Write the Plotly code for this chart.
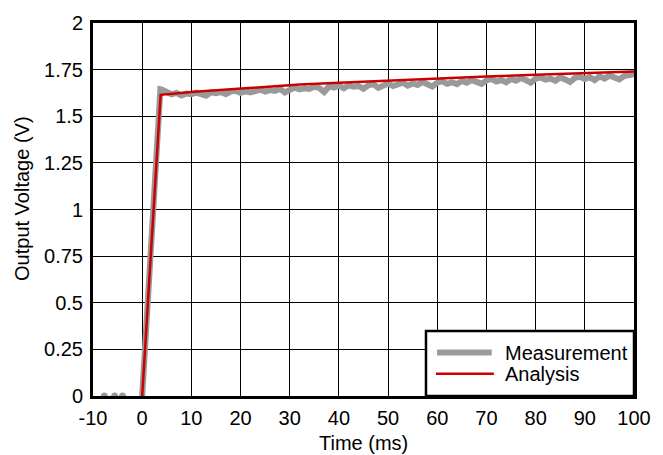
import plotly.graph_objects as go

# Measured output voltage (V) sampled every 1 ms
meas_time = [0, 1, 2, 3, 3.7] + list(range(4, 101))
meas_volt = [
    0.0, 0.44, 0.88, 1.32, 1.645,
    1.643, 1.630, 1.618, 1.625, 1.612, 1.622, 1.618, 1.626, 1.616, 1.610,
    1.628, 1.624, 1.630, 1.618, 1.632, 1.636, 1.626, 1.634, 1.628, 1.638,
    1.642, 1.632, 1.640, 1.636, 1.648, 1.628, 1.640, 1.654, 1.644, 1.650,
    1.646, 1.658, 1.652, 1.630, 1.660, 1.654, 1.664, 1.650, 1.666, 1.658,
    1.662, 1.648, 1.666, 1.672, 1.652, 1.668, 1.676, 1.662, 1.670, 1.680,
    1.664, 1.676, 1.668, 1.684, 1.672, 1.660, 1.680, 1.688, 1.674, 1.682,
    1.672, 1.690, 1.680, 1.694, 1.684, 1.674, 1.692, 1.700, 1.686, 1.694,
    1.682, 1.700, 1.690, 1.704, 1.694, 1.680, 1.702, 1.708, 1.696, 1.702,
    1.690, 1.708, 1.698, 1.684, 1.706, 1.712, 1.700, 1.710, 1.694, 1.714,
    1.702, 1.718, 1.708, 1.698, 1.716, 1.722, 1.726,
]

# Pre-trigger samples
pre_time = [-7.7, -5.6, -4.0]
pre_volt = [0.0, 0.0, 0.0]

# Analysis (model) curve
ana_time = [0, 3.75, 10, 20, 32, 40, 50, 60, 70, 80, 90, 100]
ana_volt = [0.0, 1.615, 1.630, 1.648, 1.670, 1.680, 1.692, 1.703, 1.713, 1.722, 1.731, 1.740]

x_ticks = list(range(-10, 101, 10))
y_ticks = [0, 0.25, 0.5, 0.75, 1, 1.25, 1.5, 1.75, 2]
y_labels = ["0", "0.25", "0.5", "0.75", "1", "1.25", "1.5", "1.75", "2"]

GRAY = "#9a9a9a"
RED = "#cc0000"
FONT = "Liberation Sans, Arial, sans-serif"

fig = go.Figure()
fig.add_trace(go.Scatter(x=meas_time, y=meas_volt, mode="lines",
                         line=dict(color=GRAY, width=6), showlegend=False))
fig.add_trace(go.Scatter(x=pre_time, y=pre_volt, mode="markers",
                         marker=dict(color=GRAY, size=7), showlegend=False))
fig.add_trace(go.Scatter(x=ana_time, y=ana_volt, mode="lines",
                         line=dict(color=RED, width=2.5), showlegend=False))

fig.update_layout(
    width=663, height=455,
    margin=dict(l=93, r=28, t=16, b=59),
    paper_bgcolor="white", plot_bgcolor="white",
    font=dict(family=FONT, size=20, color="black"),
    xaxis=dict(range=[-10, 100], tickvals=x_ticks, ticktext=[str(v) for v in x_ticks],
               showgrid=True, gridcolor="black", gridwidth=1, zeroline=False,
               showline=True, linecolor="black", linewidth=3, mirror=True,
               ticks="", tickfont=dict(size=20), ticklabelstandoff=2),
    yaxis=dict(range=[0, 2], tickvals=y_ticks, ticktext=y_labels,
               showgrid=True, gridcolor="black", gridwidth=1, zeroline=False,
               showline=True, linecolor="black", linewidth=3, mirror=True,
               ticks="", tickfont=dict(size=20), ticklabelstandoff=3),
    showlegend=False,
)

# Axis titles
fig.add_annotation(text="Time (ms)", xref="paper", yref="paper", x=0.5, y=-0.125,
                   yanchor="middle", xanchor="center", showarrow=False,
                   font=dict(size=20))
fig.add_annotation(text="Output Voltage (V)", xref="paper", yref="paper", x=-0.13, y=0.53,
                   textangle=-90, xanchor="center", yanchor="middle", showarrow=False,
                   font=dict(size=20))

# Legend box
fig.add_shape(type="rect", xref="paper", yref="paper", x0=0.6155, x1=1.0, y0=0.0, y1=0.174,
              line=dict(color="black", width=2.5), fillcolor="white", layer="above")
fig.add_shape(type="line", xref="paper", yref="paper", x0=0.636, x1=0.737, y0=0.1165, y1=0.1165,
              line=dict(color=GRAY, width=6), layer="above")
fig.add_shape(type="line", xref="paper", yref="paper", x0=0.634, x1=0.741, y0=0.0595, y1=0.0595,
              line=dict(color=RED, width=2.5), layer="above")
fig.add_annotation(text="Measurement", xref="paper", yref="paper", x=0.758, y=0.1165,
                   xanchor="left", yanchor="middle", showarrow=False, font=dict(size=20))
fig.add_annotation(text="Analysis", xref="paper", yref="paper", x=0.758, y=0.0595,
                   xanchor="left", yanchor="middle", showarrow=False, font=dict(size=20))

fig.write_html("out.html")
